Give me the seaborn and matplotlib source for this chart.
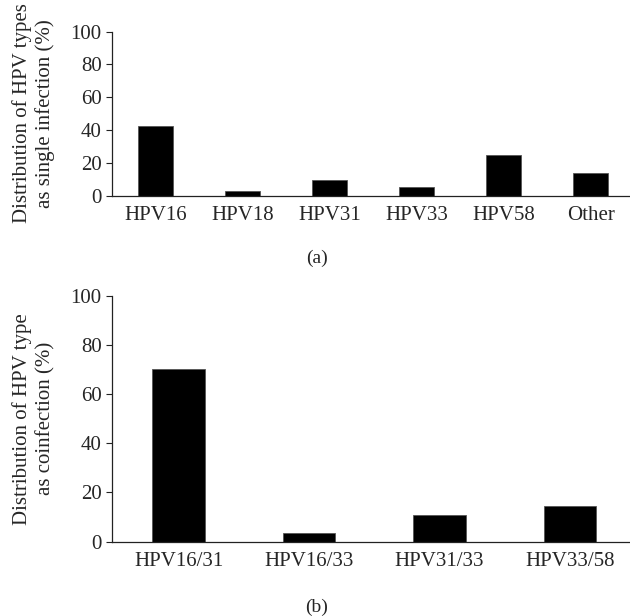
import seaborn as sns
import matplotlib.pyplot as plt
import pandas as pd

sns.set_style('ticks')
plt.rcParams['font.family'] = ['Liberation Serif', 'DejaVu Serif']

single_types = ['HPV16', 'HPV18', 'HPV31', 'HPV33', 'HPV58', 'Other']
single_pct = [42.3, 3.0, 9.6, 5.1, 25.0, 13.7]

coinf_types = ['HPV16/31', 'HPV16/33', 'HPV31/33', 'HPV33/58']
coinf_pct = [70.3, 3.4, 11.0, 14.5]

df_a = pd.DataFrame({'type': single_types, 'pct': single_pct})
df_b = pd.DataFrame({'type': coinf_types, 'pct': coinf_pct})

fig = plt.figure(figsize=(6.3, 6.16), dpi=100)
ax1 = fig.add_axes([0.1778, 0.6826, 0.8222, 0.2662])
ax2 = fig.add_axes([0.1778, 0.1209, 0.8222, 0.3985])

sns.barplot(data=df_a, x='type', y='pct', color='black', width=0.4,
            saturation=1, edgecolor='#555555', linewidth=0.6, ax=ax1)
sns.barplot(data=df_b, x='type', y='pct', color='black', width=0.4,
            saturation=1, edgecolor='#555555', linewidth=0.6, ax=ax2)

ax1.set_xlim(-0.5, 5.45)
ax2.set_xlim(-0.51, 3.46)

for ax, lab in [(ax1, 'Distribution of HPV types\nas single infection (%)'),
                (ax2, 'Distribution of HPV type\nas coinfection (%)')]:
    ax.set_ylim(0, 100)
    ax.set_yticks(range(0, 101, 20))
    ax.set_xlabel('')
    ax.set_ylabel(lab, fontsize=15, linespacing=1.25, va='center')
    ax.yaxis.set_label_coords(-0.1515, 0.5)
    ax.tick_params(axis='y', labelsize=15, length=4, width=0.8, color='#222222')
    ax.tick_params(axis='x', labelsize=15, length=0, pad=7.5)
    for s in ['top', 'right']:
        ax.spines[s].set_visible(False)
    for s in ['left', 'bottom']:
        ax.spines[s].set_color('#222222')
        ax.spines[s].set_linewidth(0.9)

fig.text(317 / 630, 1 - 258 / 616, '(a)', ha='center', va='center', fontsize=14)
fig.text(317 / 630, 1 - 607 / 616, '(b)', ha='center', va='center', fontsize=14)

fig.savefig('out.png', dpi=100)
